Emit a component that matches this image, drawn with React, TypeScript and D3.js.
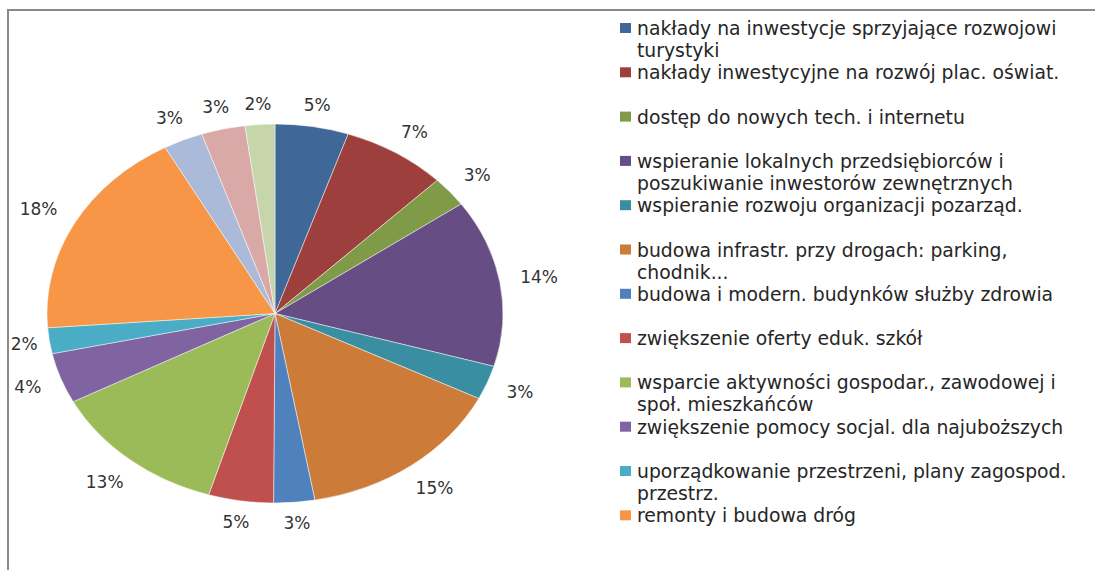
import React from "react";
import * as d3 from "d3";

const categories = [
  "nakłady na inwestycje sprzyjające rozwojowi\nturystyki",
  "nakłady inwestycyjne na rozwój plac. oświat.",
  "dostęp do nowych tech. i internetu",
  "wspieranie lokalnych przedsiębiorców i\nposzukiwanie inwestorów zewnętrznych",
  "wspieranie rozwoju organizacji pozarząd.",
  "budowa infrastr. przy drogach: parking,\nchodnik...",
  "budowa i modern. budynków służby zdrowia",
  "zwiększenie oferty eduk. szkół",
  "wsparcie aktywności gospodar., zawodowej i\nspoł. mieszkańców",
  "zwiększenie pomocy socjal. dla najuboższych",
  "uporządkowanie przestrzeni, plany zagospod.\nprzestrz.",
  "remonty i budowa dróg",
  "inne 1",
  "inne 2",
  "inne 3",
];

const values = [5.2, 7.4, 2.6, 14.3, 2.9, 14.8, 2.9, 4.6, 12.6, 4.3, 2.2, 18.2, 2.8, 3.1, 2.1];

const colors = [
  "#3F6899", "#9D3F3D", "#7F9B48", "#664E85", "#398EA2", "#CD7B38",
  "#4F81BD", "#C0504D", "#9BBB59", "#8064A2", "#4BACC6", "#F79646",
  "#AABAD8", "#D9A9A8", "#C6D6AA",
];

// legend shows only first 12 entries (clipped in original)
const legendCount = 12;

const W = 1095;
const H = 570;
const cx = 275;
const cy = 313.5;
const rx = 228;
const ry = 189.5;
const FONT = "'DejaVu Sans', sans-serif";

export default function App() {
  const total = d3.sum(values);
  const pie = d3.pie<number>().sort(null).value((d) => d);
  const arcs = pie(values);
  const arc = d3.arc<d3.PieArcDatum<number>>().innerRadius(0).outerRadius(ry);
  const sx = rx / ry;
  const fmt = d3.format(".0%");

  const gap = 11;
  const minLeft = 15;
  const labels = arcs.map((a, i) => {
    const mid = (a.startAngle + a.endAngle) / 2;
    const s = Math.sin(mid);
    const c = Math.cos(mid);
    const px = cx + rx * s;
    const py = cy - ry * c;
    const text = fmt(values[i] / total);
    const w = text.length * 11.5;
    const h = 18;
    const half = Math.abs(s) * (w / 2) + Math.abs(c) * (h / 2);
    const d = gap + half;
    let x = cx + (px + s * d - cx) * 1.04;
    const tw = text.length * 9.3;
    if (x - tw / 2 < minLeft) x = minLeft + tw / 2;
    return { x, y: py - c * d, text };
  });

  const legendX = 620;
  const legendY0 = 35;
  const legendStep = 44.3;
  const lineH = 22;

  return (
    <div style={{ position: "absolute", left: 0, top: 0, width: W, height: H, background: "#fff" }}>
      <svg width={W} height={H} style={{ display: "block" }}>
        <rect x={0} y={0} width={W} height={H} fill="#fff" />
        <rect x={8} y={10} width={W + 20} height={H + 20} fill="none" stroke="#8a8a8a" strokeWidth={2} />
        <g transform={`translate(${cx},${cy}) scale(${sx},1)`}>
          {arcs.map((a, i) => (
            <path
              key={i}
              d={arc(a) || ""}
              fill={colors[i]}
              stroke="#ffffff"
              strokeOpacity={0.6}
              strokeWidth={0.8}
              vectorEffect="non-scaling-stroke"
            />
          ))}
        </g>
        {labels.map((l, i) => (
          <text
            key={i}
            x={l.x}
            y={l.y}
            textAnchor="middle"
            dominantBaseline="central"
            fontFamily={FONT}
            fontSize={17}
            fill="#333"
          >
            {l.text}
          </text>
        ))}
        {categories.slice(0, legendCount).map((cat, i) => {
          const y = legendY0 + i * legendStep;
          const lines = cat.split("\n");
          return (
            <g key={i}>
              <rect x={legendX} y={y - 12} width={11} height={10} fill={colors[i]} />
              <text fontFamily={FONT} fontSize={18.8} fill="#262626">
                {lines.map((ln, j) => (
                  <tspan key={j} x={legendX + 17} y={y + j * lineH}>
                    {ln}
                  </tspan>
                ))}
              </text>
            </g>
          );
        })}
      </svg>
    </div>
  );
}
